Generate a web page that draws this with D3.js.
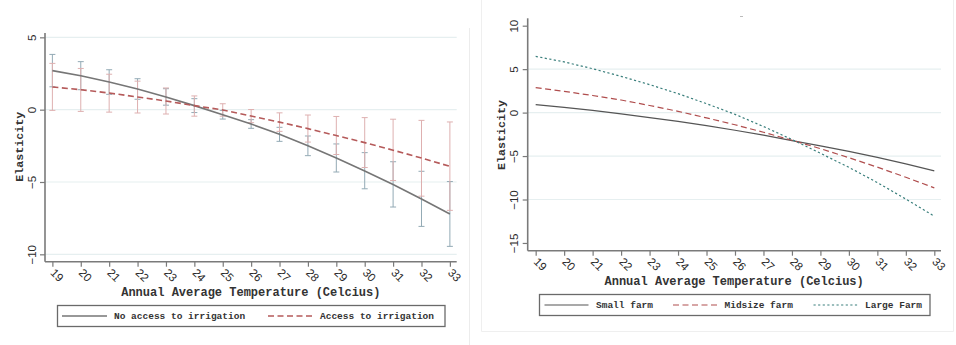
<!DOCTYPE html>
<html>
<head>
<meta charset="utf-8">
<script src="https://cdn.jsdelivr.net/npm/d3@7/dist/d3.min.js"></script>
<style>
  html, body { margin: 0; padding: 0; background: #fff; }
  svg { display: block; }
  .tick-lbl { font-family: "Liberation Sans", Arial, sans-serif; font-size: 11.5px; fill: #2a2a2a; }
  .mono { font-family: "Liberation Mono", "DejaVu Sans Mono", monospace; font-weight: bold; fill: #333; }
</style>
</head>
<body>
<svg id="chart" width="956" height="345"></svg>
<script>
// Temperatures (°C) on the x axis, shared by both panels
const temps = [19, 20, 21, 22, 23, 24, 25, 26, 27, 28, 29, 30, 31, 32, 33];

// Left panel: elasticity by irrigation access, with confidence intervals
const noAccess   = [2.70, 2.35, 1.91, 1.43, 0.88, 0.28, -0.35, -0.99, -1.70, -2.50, -3.34, -4.24, -5.17, -6.17, -7.21];
const noAccessLo = [1.58, 1.38, 1.06, 0.72, 0.31, -0.20, -0.65, -1.29, -2.19, -3.18, -4.31, -5.47, -6.73, -8.07, -9.45];
const noAccessHi = [3.82, 3.32, 2.76, 2.14, 1.45, 0.76, -0.05, -0.69, -1.22, -1.82, -2.37, -2.97, -3.60, -4.26, -4.97];
const access     = [1.57, 1.38, 1.15, 0.88, 0.60, 0.28, -0.02, -0.44, -0.86, -1.31, -1.79, -2.28, -2.80, -3.34, -3.92];
const accessLo   = [-0.05, -0.12, -0.17, -0.23, -0.30, -0.45, -0.45, -0.90, -1.50, -2.24, -3.10, -4.00, -4.90, -5.98, -6.96];
const accessHi   = [3.20, 2.85, 2.45, 1.97, 1.50, 0.95, 0.41, 0.01, -0.22, -0.37, -0.47, -0.55, -0.66, -0.74, -0.85];

// Right panel: elasticity by farm size
const smallFarm = [0.92, 0.60, 0.25, -0.15, -0.57, -1.02, -1.50, -2.03, -2.60, -3.22, -3.83, -4.47, -5.15, -5.90, -6.70];
const midFarm   = [2.87, 2.44, 1.97, 1.45, 0.82, 0.15, -0.61, -1.40, -2.26, -3.18, -4.15, -5.19, -6.28, -7.44, -8.66];
const largeFarm = [6.47, 5.83, 5.05, 4.17, 3.22, 2.18, 1.03, -0.20, -1.60, -3.10, -4.68, -6.30, -8.05, -9.95, -11.92];

const leftYTicks  = [5, 0, -5, -10];
const rightYTicks = [10, 5, 0, -5, -10, -15];
const xTitle = "Annual Average Temperature (Celcius)";
const yTitle = "Elasticity";

const svg = d3.select("#chart");
const gridColor = "#e6eff0";
const axisColor = "#7a7a7a";

// Panel frames
svg.append("line").attr("x1", 469.5).attr("x2", 469.5).attr("y1", 28).attr("y2", 345)
  .attr("stroke", "#ececec").attr("stroke-width", 1);
svg.append("path").attr("d", "M481.5,0 V331.5 H953.5 V0")
  .attr("fill", "none").attr("stroke", "#efefef").attr("stroke-width", 1);
svg.append("line").attr("x1", 740).attr("x2", 743).attr("y1", 16.5).attr("y2", 16.5)
  .attr("stroke", "#bbb").attr("stroke-width", 1);

function drawPanel(p) {
  const g = svg.append("g");
  const x = d3.scaleLinear().domain(p.xDomain).range([p.left, p.right]);
  const y = d3.scaleLinear().domain(p.yDomain).range([p.bottom, p.top]);

  // horizontal grid
  g.selectAll(".grid").data(p.grid).join("line")
    .attr("x1", p.left).attr("x2", p.right)
    .attr("y1", d => y(d)).attr("y2", d => y(d))
    .attr("stroke", gridColor).attr("stroke-width", 1.2);

  // y axis
  const yAxis = d3.axisLeft(y).tickValues(p.yTicks).tickSize(5).tickFormat(d3.format("d"));
  const ya = g.append("g").attr("transform", `translate(${p.left},0)`).call(yAxis);
  ya.select(".domain").attr("d", `M0,${p.top}V${p.bottom}`).attr("stroke", axisColor).attr("stroke-width", 1.6);
  ya.selectAll(".tick line").attr("stroke", axisColor).attr("stroke-width", 1.2);
  ya.selectAll(".tick text").attr("class", "tick-lbl").attr("font-size", null).attr("font-family", null)
    .attr("x", null).attr("dy", null)
    .attr("text-anchor", "middle")
    .attr("transform", `translate(-9.5,0) rotate(-90)`);

  // x axis
  const xAxis = d3.axisBottom(x).tickValues(temps).tickSize(5).tickFormat(d3.format("d"));
  const xa = g.append("g").attr("transform", `translate(0,${p.bottom})`).call(xAxis);
  xa.select(".domain").attr("d", `M${p.left},0H${p.right}`).attr("stroke", axisColor).attr("stroke-width", 1.6);
  xa.selectAll(".tick line").attr("stroke", axisColor).attr("stroke-width", 1.2);
  xa.selectAll(".tick text").attr("class", "tick-lbl").attr("font-size", null).attr("font-family", null)
    .attr("y", null).attr("dy", null)
    .attr("text-anchor", "start")
    .attr("transform", `translate(-3.2,11.8) rotate(45)`);

  // axis titles
  g.append("text").attr("class", "mono").attr("font-size", 12)
    .attr("x", (p.left + p.right) / 2 + p.xTitleDx).attr("y", p.xTitleY)
    .attr("text-anchor", "middle").text(xTitle);
  g.append("text").attr("class", "mono").attr("font-size", 11.7)
    .attr("text-anchor", "middle")
    .attr("transform", `translate(${p.yTitleX},${p.yTitleY}) rotate(-90)`).text(yTitle);

  // confidence intervals
  (p.ci || []).forEach(c => {
    const cap = 3;
    const eg = g.append("g").attr("stroke", c.color).attr("stroke-width", 1).attr("fill", "none");
    temps.forEach((t, i) => {
      const cx = x(t);
      eg.append("line").attr("x1", cx).attr("x2", cx).attr("y1", y(c.lo[i])).attr("y2", y(c.hi[i]));
      eg.append("line").attr("x1", cx - cap).attr("x2", cx + cap).attr("y1", y(c.lo[i])).attr("y2", y(c.lo[i]));
      eg.append("line").attr("x1", cx - cap).attr("x2", cx + cap).attr("y1", y(c.hi[i])).attr("y2", y(c.hi[i]));
    });
  });

  // series lines
  const line = d3.line().x((d, i) => x(temps[i])).y(d => y(d));
  p.series.forEach(s => {
    g.append("path").datum(s.values).attr("d", line)
      .attr("fill", "none").attr("stroke", s.color).attr("stroke-width", s.width)
      .attr("stroke-dasharray", s.dash || null);
  });

  // legend
  const L = p.legend;
  g.append("rect").attr("x", L.x).attr("y", L.y).attr("width", L.w).attr("height", L.h)
    .attr("fill", "#fff").attr("stroke", "#6a6a6a").attr("stroke-width", 1.3);
  p.series.forEach((s, i) => {
    const it = L.items[i];
    const cy = L.y + L.h / 2;
    g.append("line").attr("x1", it.x1).attr("x2", it.x2).attr("y1", cy).attr("y2", cy)
      .attr("stroke", s.color).attr("stroke-width", s.width)
      .attr("stroke-dasharray", s.dash || null);
    g.append("text").attr("class", "mono").attr("font-size", 9.5)
      .attr("x", it.tx).attr("y", cy + 3.2).text(s.name);
  });
}

drawPanel({
  left: 45, right: 456.7, top: 33, bottom: 261.7,
  xDomain: [18.74, 33.24], yDomain: [-10.51, 5.30],
  yTicks: leftYTicks, grid: leftYTicks,
  xTitleY: 296, xTitleDx: 0,
  yTitleX: 22.5, yTitleY: 146.7,
  ci: [
    { lo: noAccessLo, hi: noAccessHi, color: "#93aab5" },
    { lo: accessLo, hi: accessHi, color: "#deb0b0" }
  ],
  series: [
    { name: "No access to irrigation", values: noAccess, color: "#767676", width: 1.6 },
    { name: "Access to irrigation", values: access, color: "#b55a5a", width: 1.6, dash: "6,3.5" }
  ],
  legend: { x: 57.5, y: 305.5, w: 387.5, h: 21,
    items: [ { x1: 62, x2: 107, tx: 114 }, { x1: 268, x2: 313, tx: 320 } ] }
});

drawPanel({
  left: 527.7, right: 941, top: 18.3, bottom: 250.7,
  xDomain: [18.72, 33.235], yDomain: [-15.89, 10.85],
  yTicks: rightYTicks, grid: [5, 0, -5, -10],
  xTitleY: 285, xTitleDx: -0.2,
  yTitleX: 505, yTitleY: 135,
  series: [
    { name: "Small farm", values: smallFarm, color: "#555555", width: 1.2 },
    { name: "Midsize farm", values: midFarm, color: "#b04e4e", width: 1.2, dash: "6,3.5" },
    { name: "Large Farm", values: largeFarm, color: "#3a7f7c", width: 1.2, dash: "2.2,2.4" }
  ],
  legend: { x: 539.5, y: 294.5, w: 390.5, h: 21,
    items: [ { x1: 544.5, x2: 588.5, tx: 596 }, { x1: 673, x2: 717.5, tx: 724.5 }, { x1: 813.5, x2: 858, tx: 865 } ] }
});
</script>
</body>
</html>
